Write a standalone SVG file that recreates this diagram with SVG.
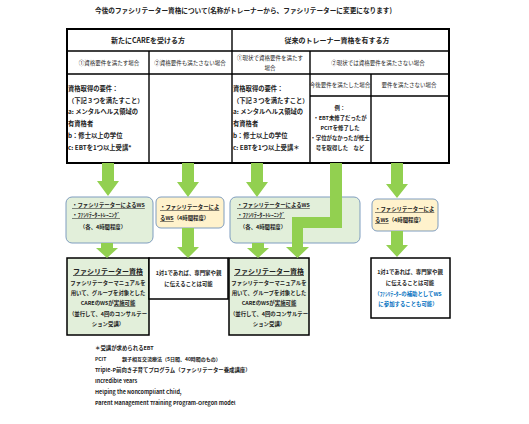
<svg xmlns="http://www.w3.org/2000/svg" width="529" height="424" viewBox="0 0 529 424">
<style>
text{font-family:"Noto Sans CJK JP","Noto Sans",sans-serif;font-weight:bold;fill:#222}
.t7{font-size:7px}
.t6{font-size:6.3px}
.h{font-size:5.5px;font-weight:normal}
.s{font-size:5.4px}
.c{text-anchor:middle}
.u{text-decoration:underline}
.blue{fill:#0070C0}
.ln{stroke:#000;stroke-width:1.4;fill:none}
.arrow{fill:#92D050}
.gbox{fill:#E2EFDA;stroke:#7F9DBF;stroke-width:1}
.ybox{fill:#FFF2CC;stroke:#7F9DBF;stroke-width:1}
.rbox{stroke:#000;stroke-width:1.5}
</style>
<rect width="529" height="424" fill="#fff"/>
<text id="title" class="t7" x="95" y="12.5" textLength="297" lengthAdjust="spacingAndGlyphs">今後のファシリテーター資格について(名称がトレーナーから、ファシリテーターに変更になります)</text>

<g id="table">
<rect x="67" y="29" width="382" height="134" fill="#fff" stroke="#000" stroke-width="2"/>
<line class="ln" x1="67" y1="51" x2="449" y2="51"/>
<line class="ln" x1="67" y1="74" x2="449" y2="74"/>
<line class="ln" x1="310" y1="96" x2="449" y2="96"/>
<line class="ln" x1="232" y1="29" x2="232" y2="163"/>
<line class="ln" x1="149" y1="51" x2="149" y2="163"/>
<line class="ln" x1="310" y1="51" x2="310" y2="163"/>
<line class="ln" x1="371" y1="74" x2="371" y2="163"/>
<text class="t7 c" x="148" y="42.5">新たにCAREを受ける方</text>
<text class="t7 c" x="337" y="42.5">従来のトレーナー資格を有する方</text>
<text class="h c" x="109" y="65">①資格要件を満たす場合</text>
<text class="h c" x="190" y="65">②資格要件も満たさない場合</text>
<text class="h c" x="270" y="59.5">①現状で資格要件を満たす</text>
<text class="h c" x="270" y="70">場合</text>
<text class="h c" x="378" y="64.5">②現状では資格要件を満たさない場合</text>
<text class="h c" x="340" y="87">今後要件を満たした場合</text>
<text class="h c" x="409" y="87">要件を満たさない場合</text>
<g class="t6">
<text x="68" y="90.5">資格取得の要件：</text>
<text x="68" y="102.5">（下記３つを満たすこと）</text>
<text x="68" y="113.5">a: メンタルヘルス領域の</text>
<text x="68" y="125.5">有資格者</text>
<text x="68" y="137.5">b：修士以上の学位</text>
<text x="68" y="149.5">c: EBTを1つ以上受講*</text>
<text x="233" y="90.5">資格取得の要件：</text>
<text x="233" y="102.5">（下記３つを満たすこと）</text>
<text x="233" y="113.5">a: メンタルヘルス領域の</text>
<text x="233" y="125.5">有資格者</text>
<text x="233" y="137.5">b：修士以上の学位</text>
<text x="233" y="149.5">c: EBTを1つ以上受講＊</text>
</g>
<g class="s c">
<text x="340" y="110">例：</text>
<text x="340" y="120">・EBT未修了だったが</text>
<text x="340" y="130">PCITを修了した</text>
<text x="340" y="140">・学位がなかったが修士</text>
<text x="340" y="150">号を取得した　など</text>
</g>
</g>

<g id="boxA">
<rect class="gbox" x="66" y="197" width="87" height="46" rx="6"/>
<text class="s u" x="72" y="207">・ファシリテーターによるWS</text>
<text class="s u" x="72" y="217" textLength="48" lengthAdjust="spacingAndGlyphs">・ﾌｧｼﾘﾃｰﾀｰﾄﾚｰﾆﾝｸﾞ</text>
<text class="s c" x="103" y="229">（各、4時間程度）</text>
</g>
<g id="boxB">
<rect class="ybox" x="156" y="197" width="68" height="31" rx="5"/>
<text class="s u" x="160" y="209">・ファシリテーターによ</text>
<text class="s" x="160" y="220"><tspan class="u">るWS</tspan>（4時間程度）</text>
</g>
<g id="boxC">
<rect class="gbox" x="230" y="197" width="130" height="46" rx="6"/>
<text class="s u" x="237" y="207">・ファシリテーターによるWS</text>
<text class="s u" x="237" y="217" textLength="48" lengthAdjust="spacingAndGlyphs">・ﾌｧｼﾘﾃｰﾀｰﾄﾚｰﾆﾝｸﾞ</text>
<text class="s c" x="263" y="229">（各、4時間程度）</text>
</g>
<g id="boxD">
<rect class="ybox" x="372" y="199" width="66" height="32" rx="5"/>
<text class="s u" x="375" y="211">・ファシリテーターによ</text>
<text class="s" x="375" y="222"><tspan class="u">るWS</tspan>（4時間程度）</text>
</g>

<g id="boxE">
<rect class="rbox" x="67" y="258" width="82" height="77" fill="#E2EFDA"/>
<text class="t7 c u" x="108" y="274">ファシリテーター資格</text>
<g class="s c">
<text x="108" y="285">ファシリテーターマニュアルを</text>
<text x="108" y="295">用いて、グループを対象とした</text>
<text x="108" y="305">CAREのWSが<tspan class="u">実施可能</tspan></text>
<text x="108" y="315.5">（並行して、4回のコンサルテー</text>
<text x="108" y="326">ション受講）</text>
</g>
</g>
<g id="boxF">
<rect class="rbox" x="149" y="258" width="79" height="41" fill="#fff"/>
<text class="s c" x="188.5" y="275">1対1であれば、専門家や親</text>
<text class="s c" x="188.5" y="286">に伝えることは可能</text>
</g>
<g id="boxG">
<rect class="rbox" x="229" y="258" width="80" height="77" fill="#E2EFDA"/>
<text class="t7 c u" x="269" y="274">ファシリテーター資格</text>
<g class="s c">
<text x="269" y="285">ファシリテーターマニュアルを</text>
<text x="269" y="295">用いて、グループを対象とした</text>
<text x="269" y="305">CAREのWSが<tspan class="u">実施可能</tspan></text>
<text x="269" y="315.5">（並行して、4回のコンサルテー</text>
<text x="269" y="326">ション受講）</text>
</g>
</g>
<g id="boxH">
<rect class="rbox" x="371" y="258" width="79" height="60" fill="#fff"/>
<text class="s c" x="410" y="274">1対1であれば、専門家や親</text>
<text class="s c" x="410" y="285">に伝えることは可能</text>
<text class="s c blue" x="408" y="295.5">（ﾌｧｼﾘﾃｰﾀｰの補助としてWS</text>
<text class="s c blue" x="408" y="306">に参加することも可能）</text>
</g>

<g id="connectors">
<path class="arrow" d="M102,163H114V181H119L108,196L97,181H102Z"/>
<path class="arrow" d="M182,163H194V182H199L188,197L177,182H182Z"/>
<path class="arrow" d="M251,163H263V182H268L257,197L246,182H251Z"/>
<path class="arrow" d="M391,163H403V184H408L397,198L386,184H391Z"/>
<path class="arrow" d="M330,163H342V228H303V247H309L297.5,258L286,247H292V217H330Z"/>
<path class="arrow" d="M101,243H113V248H118L107,258L96,248H101Z"/>
<path class="arrow" d="M182,228H194V247H199L188,258L177,247H182Z"/>
<path class="arrow" d="M252,243H264V248H269L258,258L247,248H252Z"/>
<path class="arrow" d="M391,231H403V245H408L397,257L386,245H391Z"/>
</g>

<g id="notes" class="s">
<text x="95" y="350">＊受講が求められるEBT</text>
<text x="95" y="361" font-size="5px">PCIT<tspan x="122">親子相互交流療法</tspan><tspan x="162">（5日間、40時間のもの）</tspan></text>
<text x="95" y="372">Triple-P前向き子育てプログラム（ファシリテーター養成講座）</text>
<text x="95" y="383">Incredible Years</text>
<text x="95" y="394">Helping the Noncompliant Child,</text>
<text x="95" y="405">Parent Management Training Program-Oregon model</text>
</g>
</svg>
